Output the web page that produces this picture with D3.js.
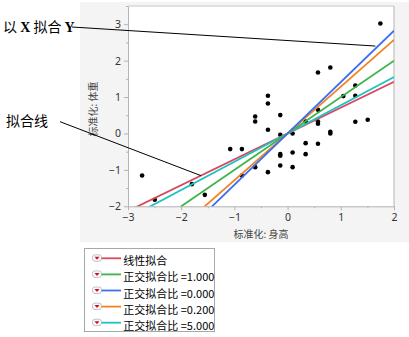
<!DOCTYPE html>
<html>
<head>
<meta charset="utf-8">
<script src="https://cdn.jsdelivr.net/npm/d3@7"></script>
<style>
  html, body { margin: 0; padding: 0; background: #ffffff; }
  svg { display: block; }
</style>
</head>
<body>
<svg id="chart" width="409" height="337"></svg>
<script>
// Standardized height (x) and weight (y)
const heightZ = [1.744, 0.571, 0.803, 1.273, 1.048, 1.273, -0.370, -0.370, 0.571, -0.609,
                 -0.609, -0.138, 0.339, 0.571, 0.571, 1.273, 1.506, 0.803, 0.803, -0.370,
                 -0.138, 0.094, 0.339, 0.571, -1.079, -0.859, 0.094, 0.339, -0.138, -0.138,
                 -0.138, -0.609, 0.094, -0.370, -0.859, -2.735, -1.800, -1.556, -2.497];
const weightZ = [3.020, 1.676, 1.813, 1.319, 1.026, 1.035, 1.035, 0.824, 0.650, 0.467,
                 0.330, 0.504, 0.330, 0.330, 0.266, 0.321, 0.375, 0.046, 0.000, 0.100,
                 -0.037, 0.000, -0.266, -0.284, -0.430, -0.430, -0.522, -0.568, -0.568, -0.614,
                 -0.879, -0.925, -0.925, -1.062, -1.154, -1.154, -1.392, -1.685, -1.822];

// Fitted lines through the origin (standardized variables)
const fitLabels = ["线性拟合", "正交拟合比 =1.000", "正交拟合比 =0.000", "正交拟合比 =0.200", "正交拟合比 =5.000"];
const fitSlopes = [0.71, 1.0, 1.41, 1.285, 0.776];
const fitColors = ["#d9485e", "#3db34a", "#3b6ff0", "#f28220", "#1fc2c2"];
// Draw order: regression line first, then the orthogonal fits
const drawOrder = [0, 4, 1, 3, 2];

const xTicks = [-3, -2, -1, 0, 1, 2];
const yTicks = [-2, -1, 0, 1, 2, 3];

const svg = d3.select("#chart");
const cjk = "'Noto Sans CJK SC', 'Noto Sans', sans-serif";
const tickFont = "'Noto Sans', 'DejaVu Sans', sans-serif";

// Grey report panel
svg.append("rect").attr("x", 80).attr("y", 2).attr("width", 329).attr("height", 240)
  .attr("fill", "#f4f4f4");

const plot = { left: 128, right: 394, top: 6, bottom: 206.3 };
const x = d3.scaleLinear().domain([-3, 2]).range([plot.left, plot.right]);
const y = d3.scaleLinear().domain([-2, 3.5]).range([plot.bottom, plot.top]);

svg.append("rect").attr("x", plot.left).attr("y", plot.top)
  .attr("width", plot.right - plot.left).attr("height", plot.bottom - plot.top)
  .attr("fill", "#ffffff");

svg.append("defs").append("clipPath").attr("id", "clip")
  .append("rect").attr("x", plot.left).attr("y", plot.top)
  .attr("width", plot.right - plot.left).attr("height", plot.bottom - plot.top);

// Axes with major and minor ticks
function styleAxis(g) {
  g.select(".domain").attr("stroke", "#b4b4b4");
  g.selectAll(".tick line").attr("stroke", "#b4b4b4");
  g.selectAll(".tick text").attr("fill", "#333").attr("font-family", tickFont).attr("font-size", 10.5);
}
const xMinor = d3.range(-2.5, 2, 1);
const yMinor = d3.range(-1.5, 3.6, 1);

svg.append("g").attr("transform", `translate(0,${plot.bottom})`)
  .call(d3.axisBottom(x).tickValues(xMinor).tickSize(2).tickFormat(""))
  .call(g => { g.select(".domain").remove(); g.selectAll("line").attr("stroke", "#b4b4b4"); });
svg.append("g").attr("transform", `translate(${plot.left},0)`)
  .call(d3.axisLeft(y).tickValues(yMinor).tickSize(2).tickFormat(""))
  .call(g => { g.select(".domain").remove(); g.selectAll("line").attr("stroke", "#b4b4b4"); });

svg.append("g").attr("transform", `translate(0,${plot.bottom})`)
  .call(d3.axisBottom(x).tickValues(xTicks).tickSize(4).tickSizeOuter(0).tickPadding(3).tickFormat(d3.format("d")))
  .call(styleAxis);
svg.append("g").attr("transform", `translate(${plot.left},0)`)
  .call(d3.axisLeft(y).tickValues(yTicks).tickSize(4).tickSizeOuter(0).tickPadding(3).tickFormat(d3.format("d")))
  .call(styleAxis);

// Top and right frame
svg.append("line").attr("x1", plot.left).attr("x2", plot.right).attr("y1", plot.top).attr("y2", plot.top)
  .attr("stroke", "#c8c8c8");
svg.append("line").attr("x1", plot.right).attr("x2", plot.right).attr("y1", plot.top).attr("y2", plot.bottom)
  .attr("stroke", "#b4b4b4");

// Axis titles
svg.append("text").attr("x", (plot.left + plot.right) / 2).attr("y", 237.5)
  .attr("text-anchor", "middle").attr("font-family", cjk).attr("font-size", 10)
  .attr("fill", "#444").text("标准化: 身高");
svg.append("text").attr("transform", `translate(97,109) rotate(-90)`)
  .attr("text-anchor", "middle").attr("font-family", cjk).attr("font-size", 10)
  .attr("fill", "#444").text("标准化: 体重");

// Points
const pts = heightZ.map((h, i) => ({ x: h, y: weightZ[i] }));
svg.append("g").selectAll("circle").data(pts).join("circle")
  .attr("cx", d => x(d.x)).attr("cy", d => y(d.y)).attr("r", 2.3).attr("fill", "#000");

// Fit lines
const fitG = svg.append("g").attr("clip-path", "url(#clip)");
drawOrder.forEach(i => {
  const s = fitSlopes[i];
  fitG.append("line")
    .attr("x1", x(-3)).attr("y1", y(-3 * s))
    .attr("x2", x(2)).attr("y2", y(2 * s))
    .attr("stroke", fitColors[i]).attr("stroke-width", 1.8);
});

// Annotations
const ann1 = svg.append("text").attr("x", 3).attr("y", 32).attr("font-size", 14).attr("fill", "#000");
ann1.append("tspan").attr("font-family", cjk).text("以 ");
ann1.append("tspan").attr("font-family", "'Liberation Serif', serif").attr("font-weight", "bold").text("X");
ann1.append("tspan").attr("font-family", cjk).text(" 拟合 ");
ann1.append("tspan").attr("font-family", "'Liberation Serif', serif").attr("font-weight", "bold").text("Y");
svg.append("line").attr("x1", 72).attr("y1", 27).attr("x2", x(1.65)).attr("y2", y(2.40))
  .attr("stroke", "#000").attr("stroke-width", 1);

svg.append("text").attr("x", 6).attr("y", 126).attr("font-size", 14).attr("font-family", cjk)
  .attr("fill", "#000").text("拟合线");
svg.append("line").attr("x1", 60).attr("y1", 121.7).attr("x2", x(-1.63)).attr("y2", y(-1.63 * fitSlopes[0]))
  .attr("stroke", "#000").attr("stroke-width", 1);

// Legend
const leg = svg.append("g");
leg.append("rect").attr("x", 84.5).attr("y", 248.5).attr("width", 130).attr("height", 83)
  .attr("fill", "#fff").attr("stroke", "#a8a8a8");
fitLabels.forEach((lab, i) => {
  const cy = 258.3 + i * 16.1;
  const row = leg.append("g");
  row.append("rect").attr("x", 92.5).attr("y", cy - 3.5).attr("width", 9).attr("height", 6.5)
    .attr("rx", 2.5).attr("fill", "#fafafa").attr("stroke", "#b8b8b8").attr("stroke-width", 0.8);
  row.append("path").attr("d", `M${94.5},${cy - 1.5} L${99.5},${cy - 1.5} L${97},${cy + 1.5} Z`)
    .attr("fill", "#c8102e");
  row.append("line").attr("x1", 101.5).attr("x2", 121).attr("y1", cy).attr("y2", cy)
    .attr("stroke", fitColors[i]).attr("stroke-width", 1.8);
  row.append("text").attr("x", 123.3).attr("y", cy + 7).attr("font-family", cjk).attr("font-size", 11)
    .attr("fill", "#000").text(lab);
});
</script>
</body>
</html>
